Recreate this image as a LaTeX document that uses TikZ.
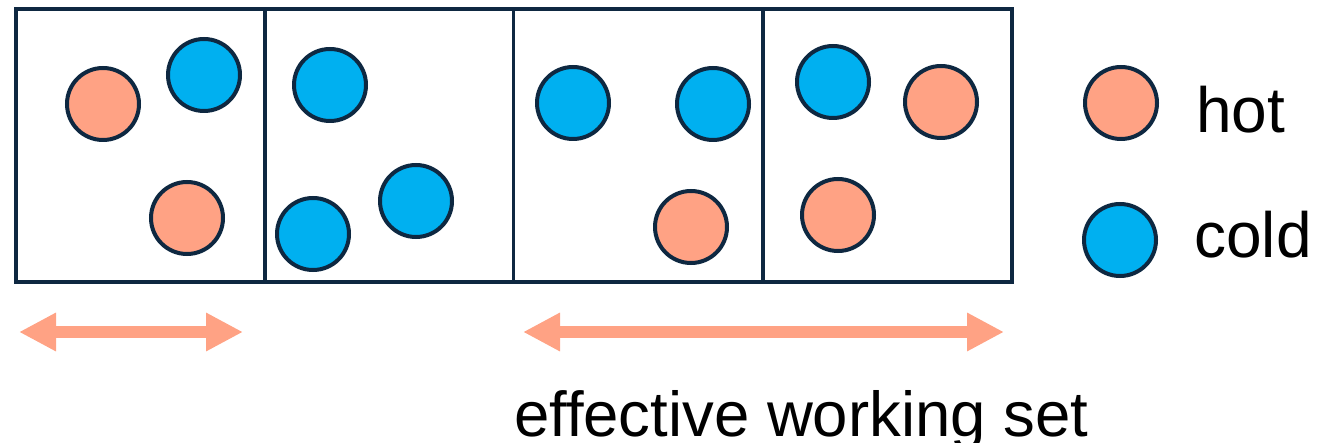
\documentclass[tikz,border=0pt]{standalone}
\usepackage{fontspec}
\setmainfont{Liberation Sans}
\usetikzlibrary{arrows.meta}
\definecolor{hotfill}{HTML}{FFA284}
\definecolor{coldfill}{HTML}{00B0F0}
\definecolor{edge}{HTML}{0E2841}
\tikzset{
  cell/.style={draw=edge, line width=3.5pt, minimum width=249pt, minimum height=273pt, inner sep=0pt},
  ball/.style={circle, draw=edge, line width=4pt, minimum size=72pt, inner sep=0pt},
  hotball/.style={ball, fill=hotfill},
  coldball/.style={ball, fill=coldfill},
  label/.style={font=\fontsize{64}{70}\selectfont, anchor=base west, inner sep=0pt},
  span/.style={draw=hotfill, line width=12pt,
    {Triangle[length=37pt,width=36pt]}-{Triangle[length=37pt,width=36pt]}}
}
\begin{document}
\begin{tikzpicture}[x=1pt,y=-1pt]
  \useasboundingbox (0,0) rectangle (1322,443);
  % four memory pages in a row
  \node[cell] (p1) at (140.5,145.5) {};
  \node[cell] (p2) at (389,145.5) {};
  \node[cell] (p3) at (638,145.5) {};
  \node[cell] (p4) at (887.5,145.5) {};
  % objects in page 1
  \node[hotball]  (a1) at (103,104) {};
  \node[coldball] (a2) at (204,75) {};
  \node[hotball]  (a3) at (187,218) {};
  % objects in page 2
  \node[coldball] (b1) at (330,85) {};
  \node[coldball] (b2) at (313,234) {};
  \node[coldball] (b3) at (416,201) {};
  % objects in page 3
  \node[coldball] (c1) at (573,103) {};
  \node[coldball] (c2) at (713,104) {};
  \node[hotball]  (c3) at (691,227) {};
  % objects in page 4
  \node[coldball] (d1) at (833,82) {};
  \node[hotball]  (d2) at (941,102) {};
  \node[hotball]  (d3) at (838,215) {};
  % legend
  \node[hotball]  (lh) at (1121,103) {};
  \node[coldball] (lc) at (1120,240) {};
  \node[label] (th) at (1196,133) {hot};
  \node[label] (tc) at (1194,258) {cold};
  % extent arrows
  \coordinate (s1a) at (19,332);
  \coordinate (s1b) at (243,332);
  \coordinate (s2a) at (523,332);
  \coordinate (s2b) at (1004,332);
  \draw[span] (s1a) -- (s1b);
  \draw[span] (s2a) -- (s2b);
  \node[label, font=\fontsize{63.5}{70}\selectfont] (ews) at (514,436) {effective working set};
\end{tikzpicture}
\end{document}
